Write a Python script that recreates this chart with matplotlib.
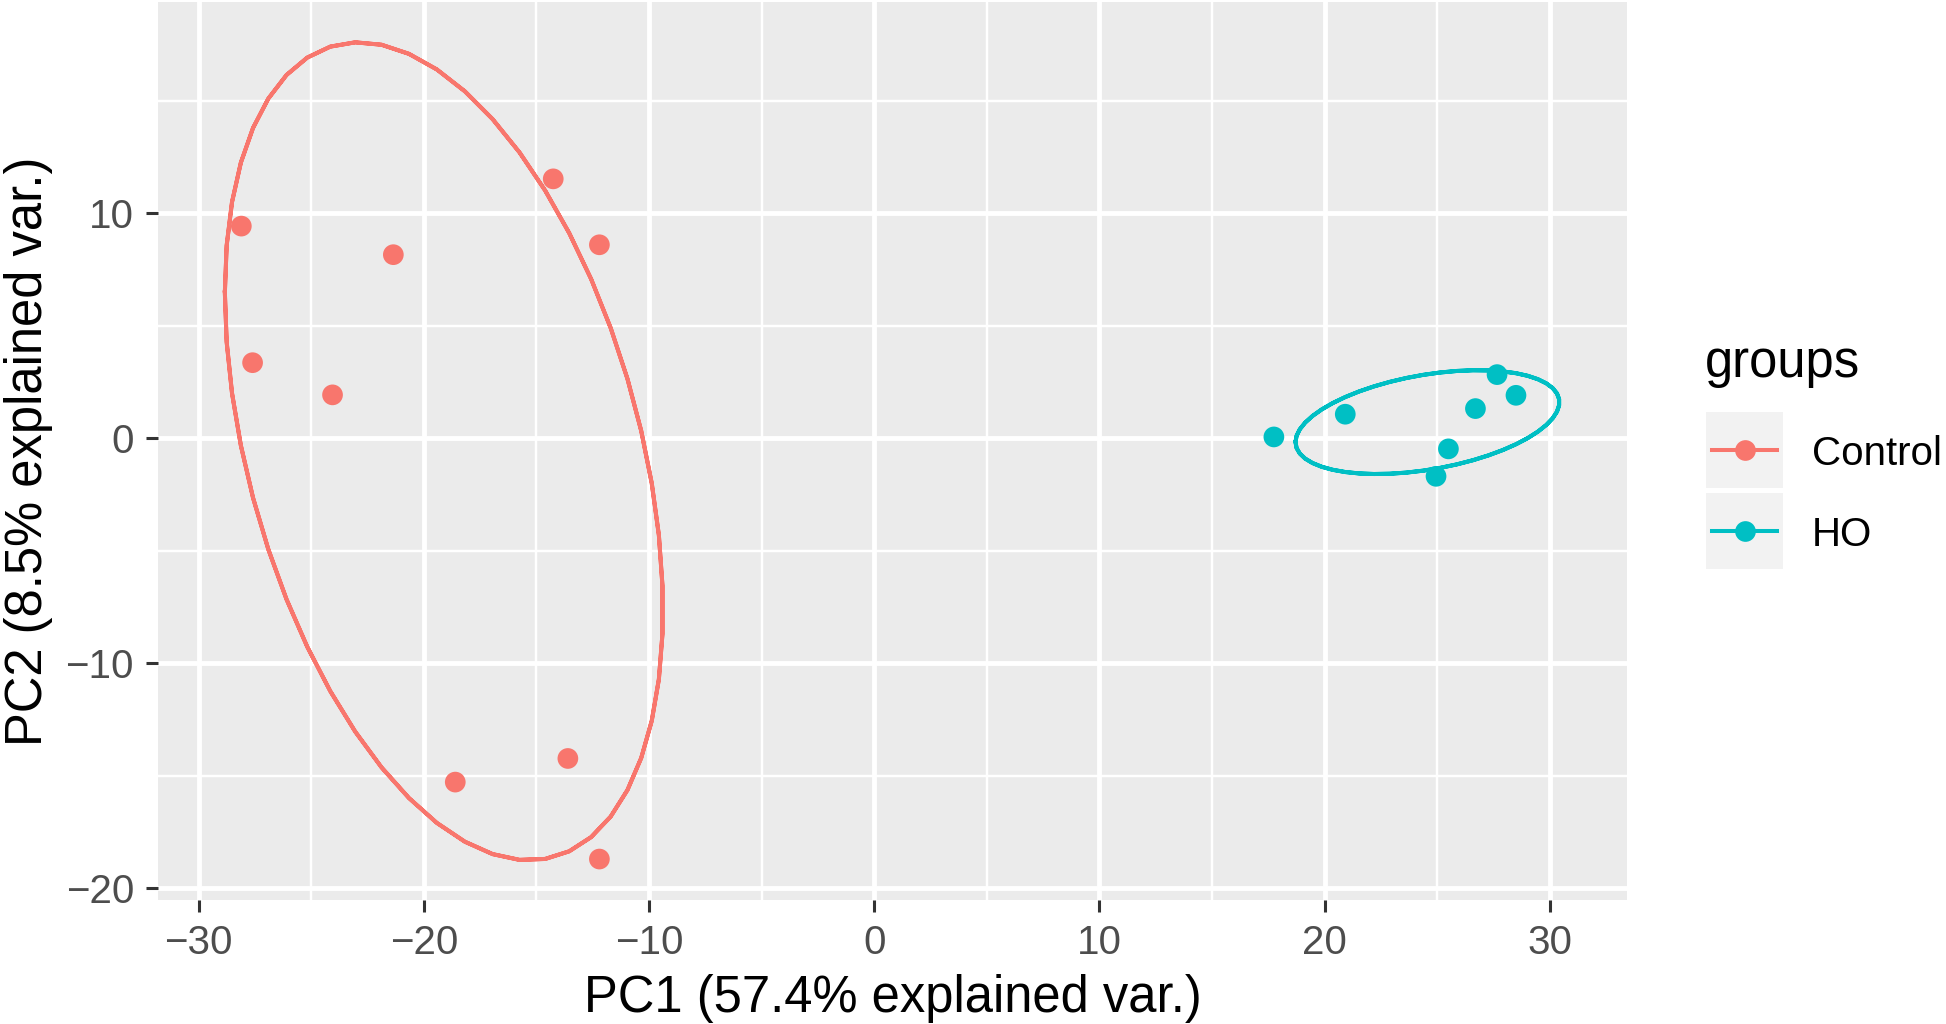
import numpy as np
import matplotlib
matplotlib.use("Agg")
import matplotlib.pyplot as plt
from matplotlib.ticker import MultipleLocator
from matplotlib.patches import Rectangle
from matplotlib.lines import Line2D

plt.rcParams['font.family'] = ['Liberation Sans', 'DejaVu Sans']

# PCA scores
groups = ["Control", "HO"]
colors = ["#F8766D", "#00BFC4"]
control_pc1 = [-28.1, -27.6, -24.05, -21.35, -14.25, -12.2, -18.6, -13.6, -12.2]
control_pc2 = [9.43, 3.36, 1.93, 8.16, 11.53, 8.6, -15.28, -14.23, -18.7]
ho_pc1 = [17.75, 20.92, 24.95, 25.5, 26.7, 27.66, 28.5]
ho_pc2 = [0.06, 1.07, -1.69, -0.47, 1.32, 2.83, 1.91]
pc1_label = "PC1 (57.4% explained var.)"
pc2_label = "PC2 (8.5% explained var.)"
ellipse_prob = 0.68

W, H = 1946, 1024
fig = plt.figure(figsize=(W / 100, H / 100), dpi=100)
# panel: x 158..1627 px, y 2..900 px
ax = fig.add_axes([158 / W, 1 - 900 / H, (1627 - 158) / W, (900 - 2) / H])
ax.set_facecolor("#EBEBEB")
for s in ax.spines.values():
    s.set_visible(False)

ax.xaxis.set_major_locator(MultipleLocator(10))
ax.xaxis.set_minor_locator(MultipleLocator(5))
ax.yaxis.set_major_locator(MultipleLocator(10))
ax.yaxis.set_minor_locator(MultipleLocator(5))
ax.grid(which="major", color="white", lw=3.5)
ax.grid(which="minor", color="white", lw=1.75)
ax.set_axisbelow(True)
ax.tick_params(which="minor", length=0)
ax.tick_params(which="major", length=8.8, width=2.2, color="#333333",
               labelsize=29, labelcolor="#4D4D4D", pad=8.5)


def ellipse(x, y, prob):
    # same construction as ggbiplot: chol(cov) scaled by sqrt(qchisq(prob, 2))
    theta = np.concatenate([np.linspace(-np.pi, np.pi, 50), np.linspace(np.pi, -np.pi, 50)])
    circle = np.column_stack([np.cos(theta), np.sin(theta)])
    sigma = np.cov(np.vstack([x, y]))
    ed = np.sqrt(-2 * np.log(1 - prob))
    pts = circle @ np.linalg.cholesky(sigma).T * ed
    return pts[:, 0] + np.mean(x), pts[:, 1] + np.mean(y)


data = [(control_pc1, control_pc2), (ho_pc1, ho_pc2)]
for (xs, ys), c in zip(data, colors):
    ex, ey = ellipse(np.array(xs), np.array(ys), ellipse_prob)
    ax.plot(ex, ey, color=c, lw=2.9, zorder=3)
    ax.scatter(xs, ys, s=222, color=c, edgecolors="none", zorder=4)

ax.set_xlim(-31.8, 33.43)
ax.set_ylim(-20.52, 19.39)

ax.set_xlabel(pc1_label, fontsize=36.5, va="baseline")
ax.xaxis.set_label_coords(0.5, (900 - 1012) / 898)
ax.set_ylabel(pc2_label, fontsize=36.5, va="baseline")
ax.yaxis.set_label_coords((42 - 158) / 1469, 0.5)

# legend drawn in pixel space
lax = fig.add_axes([0, 0, 1, 1], facecolor="none")
lax.set_xlim(0, W)
lax.set_ylim(H, 0)
lax.axis("off")
lax.text(1705, 377, "groups", fontsize=36.5, va="baseline", ha="left")
for i, (g, c) in enumerate(zip(groups, colors)):
    top = 412 + i * 81
    lax.add_patch(Rectangle((1706, top), 77, 76, facecolor="#F2F2F2", edgecolor="none"))
    cy = top + 38
    lax.add_line(Line2D([1712, 1777], [cy, cy], color=c, lw=2.9))
    lax.plot([1744.5], [cy], "o", color=c, markersize=14.9, markeredgewidth=0)
    lax.text(1812, cy, g, fontsize=29, va="center_baseline", ha="left")

fig.savefig("out.png", dpi=100)
